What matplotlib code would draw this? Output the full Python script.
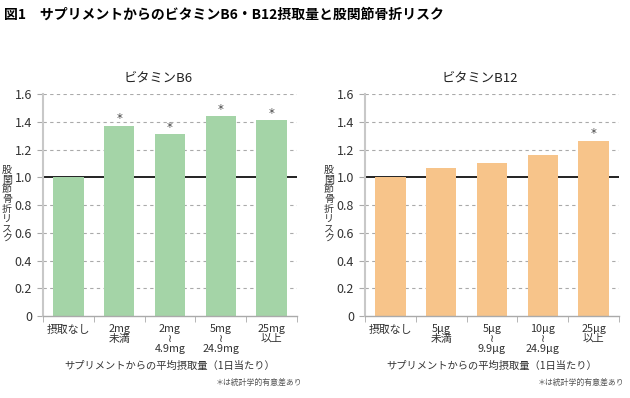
import matplotlib
matplotlib.use("Agg")
import matplotlib.pyplot as plt
import numpy as np

plt.rcParams['font.family'] = ['Noto Sans CJK JP', 'DejaVu Sans']

title = "図1　サプリメントからのビタミンB6・B12摂取量と股関節骨折リスク"
ylabel = "股関節骨折リスク"
xlabel = "サプリメントからの平均摂取量（1日当たり）"
note = "＊は統計学的有意差あり"

b6_labels = ["摂取なし", "2mg\n未満", "2mg\n≀\n4.9mg", "5mg\n≀\n24.9mg", "25mg\n以上"]
b6_values = [1.0, 1.37, 1.31, 1.44, 1.41]
b6_sig = [False, True, True, True, True]

b12_labels = ["摂取なし", "5μg\n未満", "5μg\n≀\n9.9μg", "10μg\n≀\n24.9μg", "25μg\n以上"]
b12_values = [1.0, 1.065, 1.105, 1.16, 1.26]
b12_sig = [False, False, False, False, True]

yticks = [0, 0.2, 0.4, 0.6, 0.8, 1.0, 1.2, 1.4, 1.6]
ytick_labels = ["0", "0.2", "0.4", "0.6", "0.8", "1.0", "1.2", "1.4", "1.6"]

fig = plt.figure(figsize=(6.3, 3.98), dpi=100)
fig.text(0.006, 0.962, title, fontsize=10, fontweight='bold', va='center', ha='left')

panels = [
    ("ビタミンB6", b6_labels, b6_values, b6_sig, "#a4d4a7", 0.0683),
    ("ビタミンB12", b12_labels, b12_values, b12_sig, "#f7c48a", 0.5794),
]

for name, labels, values, sig, color, left in panels:
    ax = fig.add_axes([left, 0.206, 0.403, 0.5578])
    x = np.arange(len(values))
    ax.bar(x, values, width=0.6, color=color, zorder=2)
    for yv in yticks[1:]:
        if yv == 1.0:
            continue
        ax.axhline(yv, color="#aaaaaa", lw=0.8, ls=(0, (3, 3)), zorder=1)
    ax.axhline(1.0, color="#222222", lw=1.4, zorder=1)
    for xi, v, s in zip(x, values, sig):
        if s:
            ax.text(xi, v + 0.005, "*", ha='center', va='bottom', fontsize=8.5,
                    color="#444444", family='DejaVu Sans')
    ax.set_xlim(-0.5, len(values) - 0.5)
    ax.set_ylim(0, 1.6)
    ax.set_yticks(yticks)
    ax.set_yticklabels(ytick_labels, fontsize=9, color="#333333")
    ax.set_xticks(x)
    ax.set_xticklabels(labels, fontsize=7.8, color="#333333", linespacing=0.95, va='top')
    ax.set_xticks(np.arange(len(values) + 1) - 0.5, minor=True)
    ax.tick_params(axis='x', which='major', length=0, pad=6)
    ax.tick_params(axis='x', which='minor', length=4, color="#aaaaaa", direction='out')
    ax.tick_params(axis='y', length=4, color="#aaaaaa", pad=4)
    for sp in ['top', 'right']:
        ax.spines[sp].set_visible(False)
    ax.spines['left'].set_color("#c8c8c8")
    ax.spines['left'].set_linewidth(1.5)
    ax.spines['bottom'].set_color("#aaaaaa")
    ax.spines['bottom'].set_linewidth(1.0)
    ax.text(0.453, 1.072, name, transform=ax.transAxes, ha='center', va='center', fontsize=9.5, color="#222222")
    # vertical label, one character per row
    n = len(ylabel)
    for i, ch in enumerate(ylabel):
        ax.text(-0.143, 0.505 + (n / 2 - 0.5 - i) * 0.0439, ch, transform=ax.transAxes,
                ha='center', va='center', fontsize=7.2, color="#333333")
    ax.text(0.5, -0.225, xlabel, transform=ax.transAxes, ha='center', va='center', fontsize=7.4, color="#333333")
    ax.text(1.02, -0.30, note, transform=ax.transAxes, ha='right', va='center', fontsize=5.7, color="#555555")

fig.savefig("out.png", dpi=100)
